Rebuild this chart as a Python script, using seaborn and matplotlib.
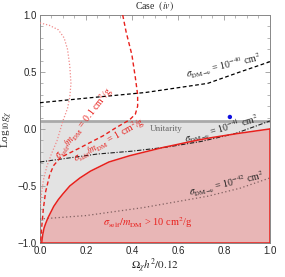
import numpy as np
import pandas as pd
import matplotlib
matplotlib.use("Agg")
import matplotlib.pyplot as plt
import seaborn as sns

# values
red_x = [0.008, 0.01, 0.013, 0.018, 0.025, 0.035, 0.045, 0.06, 0.08, 0.1, 0.13, 0.174, 0.22, 0.25,
         0.3, 0.39, 0.46, 0.53, 0.6, 0.68, 0.75, 0.86, 0.93, 1.0]
red_y = [-1.0, -0.96, -0.92, -0.87, -0.83, -0.78, -0.74, -0.68, -0.62, -0.57, -0.5, -0.43, -0.37, -0.34,
         -0.29, -0.235, -0.2, -0.165, -0.135, -0.1, -0.075, -0.04, -0.02, 0.0]

s40_x = [0.0, 0.2, 0.46, 0.73, 0.87, 1.0]
s40_y = [0.23, 0.27, 0.32, 0.40, 0.50, 0.59]
s41_x = [0.0, 0.25, 0.4, 0.55, 0.7, 0.85, 1.0]
s41_y = [-0.29, -0.22, -0.195, -0.16, -0.11, -0.04, 0.07]
s42_x = [0.0, 0.2, 0.45, 0.73, 0.87, 1.0]
s42_y = [-0.79, -0.76, -0.69, -0.59, -0.52, -0.43]

self01_x = [0.0, 0.04, 0.08, 0.105, 0.12, 0.13, 0.135, 0.13, 0.12, 0.1, 0.075, 0.05, 0.03, 0.015, 0.005, 0.0]
self01_y = [0.93, 0.91, 0.87, 0.80, 0.70, 0.55, 0.40, 0.28, 0.18, 0.07, -0.10, -0.22, -0.33, -0.45, -0.60, -0.70]
self1_x = [0.36, 0.375, 0.4, 0.415, 0.425, 0.425, 0.415, 0.39, 0.33, 0.275, 0.17, 0.09, 0.06, 0.043, 0.025, 0.015, 0.008, 0.003]
self1_y = [1.0, 0.85, 0.65, 0.45, 0.30, 0.20, 0.13, 0.08, 0.01, -0.06, -0.17, -0.25, -0.32, -0.40, -0.55, -0.70, -0.86, -1.0]

unitarity = 0.07
bench_x = [0.826]
bench_y = [0.105]

sns.set_style("ticks")
plt.rcParams['font.family'] = ['Liberation Sans', 'DejaVu Sans']
plt.rcParams['mathtext.fontset'] = 'stix'

fig = plt.figure(figsize=(2.85, 2.77), dpi=100)
ax = fig.add_axes([0.140, 0.123, 0.807, 0.823])

# shaded regions
ax.fill_between(red_x, red_y, unitarity, color='#e3e3e3', lw=0, zorder=0)
ax.fill_between([0.0, 0.008], -1, unitarity, color='#e3e3e3', lw=0, zorder=0)
ax.fill_between(red_x, -1, red_y, color='#e8b6b6', lw=0, zorder=1)
ax.axhline(unitarity, color='#a9a9a9', lw=2, zorder=2)

sns.lineplot(x=red_x, y=red_y, sort=False, estimator=None, color='#e8201c', lw=1.1, ax=ax, zorder=4)
ax.plot([1, 1], [-1, 0], color='#e8201c', lw=1.1, zorder=4)
ax.plot([0, 1], [-1, -1], color='#e8201c', lw=1.1, zorder=4)

sns.lineplot(x=s40_x, y=s40_y, sort=False, estimator=None, color='black', lw=0.9, ls=(0, (3, 2)), ax=ax, zorder=3)
sns.lineplot(x=s41_x, y=s41_y, sort=False, estimator=None, color='#222222', lw=0.8, ls=(0, (4, 1.5, 1, 1.5)), ax=ax, zorder=3)
sns.lineplot(x=s42_x, y=s42_y, sort=False, estimator=None, color='#806060', lw=0.9, ls=(0, (1, 2)), ax=ax, zorder=3)

sns.lineplot(x=self01_x, y=self01_y, sort=False, estimator=None, color='#f08a8a', lw=0.9, ls=(0, (1, 1.5)), ax=ax, zorder=3)
sns.lineplot(x=self1_x, y=self1_y, sort=False, estimator=None, color='#e8201c', lw=1.0, ls=(0, (3, 2)), ax=ax, zorder=3)

sns.scatterplot(x=bench_x, y=bench_y, color='#1010e0', s=10, edgecolor='none', ax=ax, zorder=5)

# annotations
serif = ['Liberation Serif', 'DejaVu Serif']
ax.text(0.80, 0.55, r'$\sigma_{\rm DM\!-\!\nu}$ = 10$^{-40}$ cm$^2$', rotation=13, fontsize=7,
        family=serif, ha='center', va='center', color='#222222')
ax.text(0.79, -0.005, r'$\sigma_{\rm DM\!-\!\nu}$ = 10$^{-41}$ cm$^2$', rotation=16, fontsize=7,
        family=serif, ha='center', va='center', color='#222222')
ax.text(0.81, -0.49, r'$\sigma_{\rm DM\!-\!\nu}$ = 10$^{-42}$ cm$^2$', rotation=13, fontsize=7,
        family=serif, ha='center', va='center', color='#222222')
ax.text(0.55, 0.0, 'Unitarity', fontsize=6.5, family=serif, ha='center', va='center', color='#666666')
ax.text(0.47, -0.82, r'$\sigma_{\rm self}/m_{\rm DM}$ > 10 cm$^2$/g', fontsize=7.5, family=serif,
        ha='center', va='center', color='#e8201c')
ax.text(0.19, 0.05, r'$\sigma_{\rm self}/m_{\rm DM}$ = 0.1 cm$^2$/g', rotation=52, fontsize=7,
        family=serif, ha='center', va='center', color='#e8201c')
ax.text(0.30, -0.10, r'$\sigma_{\rm self}/m_{\rm DM}$ = 1 cm$^2$/g', rotation=29, fontsize=7,
        family=serif, ha='center', va='center', color='#e8201c')

ax.set_xlim(0, 1)
ax.set_ylim(-1, 1)
ax.set_xticks([0, 0.2, 0.4, 0.6, 0.8, 1.0])
ax.set_xticks(np.arange(0, 1.001, 0.05), minor=True)
ax.set_yticks([-1, -0.5, 0, 0.5, 1])
ax.set_yticks(np.arange(-1, 1.001, 0.1), minor=True)
ax.set_xticklabels(['0.0', '0.2', '0.4', '0.6', '0.8', '1.0'])
ax.set_yticklabels(['\u22121.0', '\u22120.5', '0.0', '0.5', '1.0'])
ax.tick_params(which='both', direction='in', top=True, right=True, color='#999999', labelsize=7, pad=2)
ax.tick_params(which='major', length=3.5, width=0.6)
ax.tick_params(which='minor', length=2, width=0.5)
for s in ax.spines.values():
    s.set_color('#888888')
    s.set_linewidth(0.7)

ax.set_xlabel(r'$\Omega_\chi h^2/0.12$', fontsize=8, family=serif, labelpad=0.5)
ax.set_ylabel(r'Log$_{10}g_\chi$', fontsize=8, family=serif, labelpad=2)
ax.set_title(r'Case  $\it{(iv)}$', fontsize=7, family=serif, pad=4)

fig.savefig('out.png', dpi=100)
